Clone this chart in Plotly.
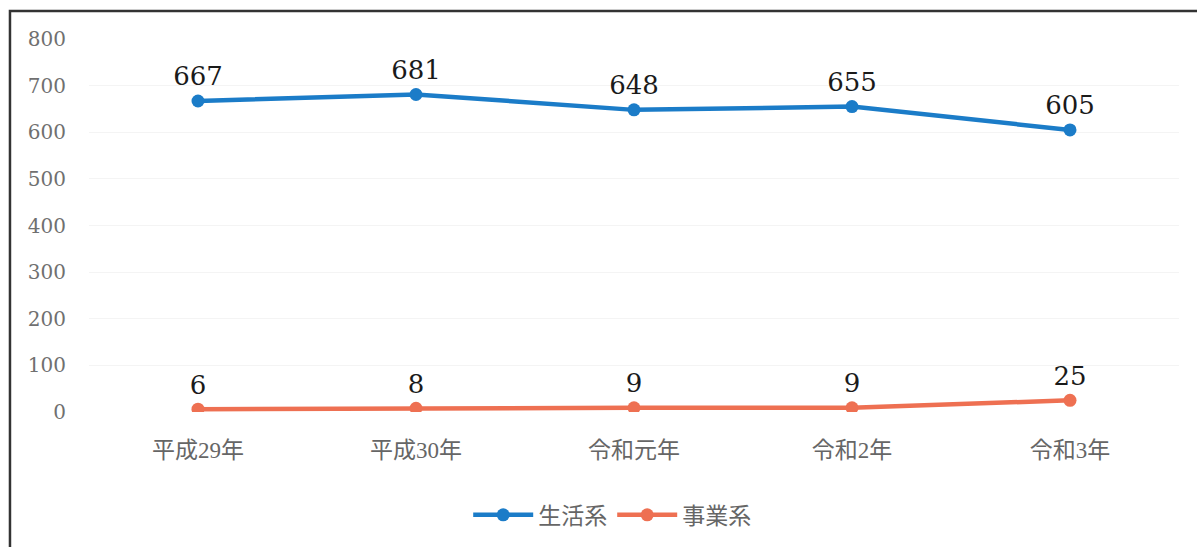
import plotly.graph_objects as go

categories = ["平成29年", "平成30年", "令和元年", "令和2年", "令和3年"]
household = [667, 681, 648, 655, 605]
business = [6, 8, 9, 9, 25]
y_ticks = [0, 100, 200, 300, 400, 500, 600, 700, 800]

BLUE = "#1B7CC8"
ORANGE = "#EE7052"
FONT = "Liberation Serif, DejaVu Serif, Noto Sans CJK JP, serif"
LABEL_FONT = "DejaVu Serif, Liberation Serif, serif"

fig = go.Figure()
fig.add_trace(go.Scatter(
    x=categories, y=household, name="生活系", mode="lines+markers+text",
    line=dict(color=BLUE, width=4.5), marker=dict(color=BLUE, size=13),
    text=[str(v) for v in household], textposition="top center",
    textfont=dict(family=LABEL_FONT, size=26, color="#1a1a1a"),
))
fig.add_trace(go.Scatter(
    x=categories, y=business, name="事業系", mode="lines+markers+text",
    line=dict(color=ORANGE, width=4.5), marker=dict(color=ORANGE, size=13),
    text=[str(v) for v in business], textposition="top center",
    textfont=dict(family=LABEL_FONT, size=26, color="#1a1a1a"),
))

# outer frame of the chart area
fig.add_shape(type="rect", xref="paper", yref="paper",
              x0=-0.0725, x1=1.2, y0=-0.5, y1=1.0749,
              line=dict(color="#333333", width=2.5), fillcolor="rgba(0,0,0,0)",
              layer="below")

fig.update_layout(
    width=1197, height=547,
    margin=dict(l=89, r=18, t=39, b=134),
    paper_bgcolor="white", plot_bgcolor="white",
    font=dict(family=FONT, size=22, color="#666666"),
    showlegend=True,
    legend=dict(orientation="h", x=0.48, xanchor="center", y=-0.215, yanchor="top",
                font=dict(family=FONT, size=23, color="#666666"), itemwidth=60),
    xaxis=dict(range=[-0.5, 4.5], showgrid=False, showline=False, zeroline=False, ticks="",
               tickfont=dict(family=FONT, size=23, color="#666666"), ticklabelstandoff=22),
    yaxis=dict(range=[0, 800], tickvals=y_ticks, showgrid=True, gridcolor="#F4F4F4",
               zeroline=False, showline=False, ticks="",
               tickfont=dict(family=LABEL_FONT, size=20, color="#707070"), ticklabelstandoff=22),
)

fig.write_html("out.html")
